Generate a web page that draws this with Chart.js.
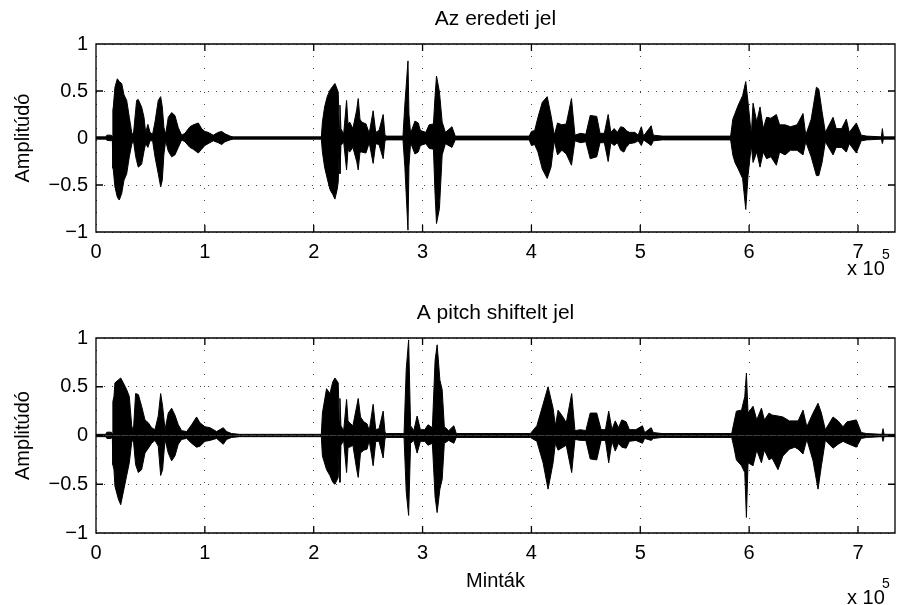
<!DOCTYPE html>
<html>
<head>
<meta charset="utf-8">
<script src="https://cdn.jsdelivr.net/npm/chart.js@4.4.1/dist/chart.umd.min.js"></script>
<style>
  html, body { margin: 0; padding: 0; background: #fff; }
  #wrap { position: relative; width: 897px; height: 605px; }
  #wrap canvas { position: absolute; left: 0; }
</style>
</head>
<body>
<div id="wrap">
  <canvas id="topChart" width="897" height="300" style="top:0"></canvas>
  <canvas id="bottomChart" width="897" height="305" style="top:300px"></canvas>
</div>
<script>
// axis values
const xTicks = [0, 1, 2, 3, 4, 5, 6, 7];
const yTicks = [-1, -0.5, 0, 0.5, 1];
const xMax = 7.34;   // samples / 1e5

const topTitle = 'Az eredeti jel';
const bottomTitle = 'A pitch shiftelt jel';
const yLabel = 'Amplitúdó';
const xLabel = 'Minták';

// waveform envelope: position (x 1e5 samples), upper and lower amplitude
const topX = [
  0, 0.09, 0.10, 0.14, 0.15, 0.155, 0.159, 0.174, 0.196, 0.214, 0.236, 0.257, 0.282, 0.306, 0.328, 0.343, 0.365, 0.373, 0.388, 0.419, 0.441, 0.456, 0.477, 0.496, 0.52, 0.542, 0.572, 0.594, 0.609, 0.624, 0.64, 0.664, 0.695, 0.725, 0.756, 0.787, 0.817, 0.863, 0.894, 0.94, 0.97, 1.0, 1.03, 1.077, 1.123, 1.154, 1.185, 1.231, 1.26,
  2.07, 2.08, 2.10, 2.124, 2.15, 2.175, 2.195, 2.215, 2.225, 2.235, 2.241, 2.25, 2.275, 2.302, 2.315, 2.33, 2.36, 2.395, 2.409, 2.425, 2.44, 2.48, 2.51, 2.546, 2.57, 2.60, 2.638, 2.655, 2.67,
  2.82, 2.837, 2.866, 2.875, 2.89, 2.93, 2.96, 2.98, 3.03, 3.06, 3.10, 3.115, 3.128, 3.155, 3.18, 3.21, 3.27, 3.30,
  3.98, 4.0, 4.03, 4.06, 4.10, 4.145, 4.18, 4.21, 4.24, 4.28, 4.32, 4.368, 4.40, 4.45, 4.50, 4.54, 4.60, 4.63, 4.67, 4.705, 4.73, 4.76, 4.79, 4.82, 4.85, 4.87, 4.90, 4.95, 4.98, 5.01, 5.03, 5.10, 5.12, 5.20,
  5.83, 5.85, 5.87, 5.90, 5.94, 5.969, 5.99, 6.02, 6.036, 6.07, 6.10, 6.13, 6.16, 6.20, 6.25, 6.28, 6.33, 6.38, 6.44, 6.495, 6.52, 6.57, 6.618, 6.64, 6.67, 6.70, 6.771, 6.80, 6.85, 6.893, 6.92, 6.985, 7.03, 7.08, 7.215, 7.224, 7.233, 7.34
];
const topHi = [
  0.012, 0.012, 0.03, 0.03, 0.015, 0.30, 0.33, 0.54, 0.63, 0.60, 0.58, 0.46, 0.40, 0.22, 0.06, 0.03, 0.30, 0.40, 0.41, 0.33, 0.22, 0.06, 0.145, 0.06, 0.04, 0.17, 0.40, 0.44, 0.33, 0.11, 0.04, 0.22, 0.27, 0.24, 0.11, 0.03, 0.05, 0.12, 0.14, 0.16, 0.10, 0.07, 0.06, 0.03, 0.06, 0.07, 0.045, 0.02, 0.012,
  0.012, 0.17, 0.33, 0.44, 0.51, 0.55, 0.58, 0.52, 0.49, 0.10, 0.35, 0.10, 0.04, 0.40, 0.15, 0.17, 0.10, 0.30, 0.42, 0.20, 0.17, 0.15, 0.05, 0.29, 0.06, 0.08, 0.25, 0.03, 0.02,
  0.02, 0.35, 0.82, 0.25, 0.05, 0.18, 0.16, 0.08, 0.06, 0.14, 0.15, 0.45, 0.66, 0.49, 0.17, 0.06, 0.12, 0.02,
  0.02, 0.07, 0.08, 0.22, 0.38, 0.44, 0.24, 0.03, 0.16, 0.14, 0.15, 0.42, 0.03, 0.05, 0.04, 0.24, 0.23, 0.05, 0.05, 0.25, 0.06, 0.10, 0.06, 0.12, 0.11, 0.08, 0.06, 0.06, 0.03, 0.12, 0.02, 0.13, 0.03, 0.02,
  0.02, 0.20, 0.26, 0.35, 0.45, 0.60, 0.38, 0.03, 0.37, 0.17, 0.33, 0.10, 0.22, 0.21, 0.25, 0.14, 0.14, 0.12, 0.14, 0.26, 0.03, 0.20, 0.54, 0.52, 0.28, 0.06, 0.22, 0.10, 0.10, 0.20, 0.06, 0.16, 0.03, 0.02, 0.012, 0.10, 0.012, 0.012
];
const topLo = [
  -0.012, -0.012, -0.025, -0.03, -0.015, -0.32, -0.34, -0.52, -0.63, -0.66, -0.59, -0.45, -0.38, -0.20, -0.07, -0.02, -0.20, -0.24, -0.31, -0.28, -0.14, -0.06, -0.10, -0.03, -0.03, -0.20, -0.38, -0.52, -0.45, -0.17, -0.03, -0.14, -0.20, -0.18, -0.10, -0.02, -0.04, -0.10, -0.12, -0.16, -0.12, -0.08, -0.06, -0.03, -0.05, -0.07, -0.04, -0.02, -0.012,
  -0.012, -0.15, -0.31, -0.43, -0.55, -0.60, -0.65, -0.55, -0.47, -0.10, -0.38, -0.08, -0.04, -0.34, -0.12, -0.15, -0.10, -0.25, -0.34, -0.15, -0.15, -0.16, -0.05, -0.27, -0.06, -0.07, -0.22, -0.03, -0.02,
  -0.02, -0.30, -0.98, -0.30, -0.05, -0.17, -0.15, -0.08, -0.06, -0.11, -0.12, -0.60, -0.91, -0.75, -0.18, -0.06, -0.10, -0.02,
  -0.02, -0.08, -0.07, -0.15, -0.33, -0.43, -0.31, -0.03, -0.18, -0.13, -0.17, -0.29, -0.03, -0.05, -0.04, -0.22, -0.20, -0.05, -0.05, -0.25, -0.05, -0.08, -0.05, -0.13, -0.15, -0.10, -0.06, -0.05, -0.03, -0.08, -0.02, -0.08, -0.03, -0.02,
  -0.02, -0.18, -0.26, -0.33, -0.43, -0.76, -0.40, -0.08, -0.26, -0.15, -0.31, -0.15, -0.22, -0.20, -0.29, -0.15, -0.18, -0.13, -0.13, -0.18, -0.04, -0.20, -0.40, -0.40, -0.26, -0.04, -0.18, -0.10, -0.10, -0.15, -0.06, -0.16, -0.03, -0.02, -0.012, -0.06, -0.012, -0.012
];

const botX = [
  0, 0.09, 0.10, 0.14, 0.15, 0.155, 0.165, 0.174, 0.205, 0.227, 0.251, 0.282, 0.306, 0.328, 0.343, 0.364, 0.389, 0.419, 0.45, 0.481, 0.511, 0.542, 0.572, 0.594, 0.612, 0.634, 0.664, 0.695, 0.725, 0.756, 0.787, 0.833, 0.878, 0.924, 0.955, 1.001, 1.047, 1.108, 1.169, 1.2, 1.246, 1.32,
  2.07, 2.08, 2.118, 2.149, 2.175, 2.195, 2.225, 2.235, 2.241, 2.25, 2.275, 2.302, 2.315, 2.33, 2.36, 2.395, 2.409, 2.43, 2.46, 2.49, 2.51, 2.546, 2.57, 2.60, 2.638, 2.655, 2.67,
  2.83, 2.85, 2.872, 2.89, 2.92, 2.95, 2.98, 3.02, 3.05, 3.09, 3.115, 3.134, 3.159, 3.18, 3.20, 3.24, 3.287, 3.31,
  3.99, 4.05, 4.107, 4.153, 4.199, 4.22, 4.245, 4.29, 4.32, 4.37, 4.40, 4.45, 4.50, 4.54, 4.60, 4.64, 4.68, 4.71, 4.74, 4.77, 4.80, 4.83, 4.87, 4.90, 4.96, 5.02, 5.04, 5.10, 5.12, 5.20,
  5.84, 5.86, 5.883, 5.93, 5.96, 5.975, 5.99, 6.036, 6.07, 6.113, 6.14, 6.183, 6.21, 6.265, 6.31, 6.37, 6.42, 6.45, 6.495, 6.53, 6.587, 6.633, 6.664, 6.70, 6.771, 6.817, 6.863, 6.899, 6.985, 7.03, 7.08, 7.22, 7.23, 7.24, 7.34
];
const botHi = [
  0.012, 0.012, 0.034, 0.034, 0.015, 0.35, 0.40, 0.54, 0.57, 0.59, 0.54, 0.47, 0.40, 0.10, 0.04, 0.43, 0.42, 0.30, 0.16, 0.13, 0.08, 0.06, 0.20, 0.43, 0.30, 0.06, 0.23, 0.28, 0.21, 0.11, 0.05, 0.04, 0.11, 0.19, 0.13, 0.09, 0.08, 0.04, 0.08, 0.04, 0.02, 0.012,
  0.012, 0.23, 0.48, 0.43, 0.55, 0.59, 0.54, 0.15, 0.38, 0.10, 0.05, 0.37, 0.15, 0.13, 0.10, 0.30, 0.38, 0.19, 0.14, 0.12, 0.05, 0.32, 0.06, 0.07, 0.25, 0.03, 0.02,
  0.02, 0.68, 0.98, 0.10, 0.05, 0.20, 0.06, 0.06, 0.11, 0.08, 0.77, 0.93, 0.57, 0.47, 0.09, 0.05, 0.10, 0.02,
  0.02, 0.10, 0.32, 0.50, 0.28, 0.10, 0.26, 0.19, 0.13, 0.43, 0.05, 0.06, 0.05, 0.23, 0.23, 0.06, 0.06, 0.25, 0.06, 0.15, 0.08, 0.16, 0.14, 0.06, 0.06, 0.10, 0.03, 0.08, 0.03, 0.02,
  0.02, 0.13, 0.25, 0.26, 0.40, 0.64, 0.23, 0.30, 0.16, 0.28, 0.16, 0.23, 0.21, 0.20, 0.19, 0.15, 0.15, 0.15, 0.26, 0.09, 0.23, 0.33, 0.23, 0.06, 0.19, 0.15, 0.09, 0.14, 0.16, 0.03, 0.02, 0.012, 0.07, 0.012, 0.012
];
const botLo = [
  -0.012, -0.012, -0.03, -0.03, -0.015, -0.30, -0.35, -0.52, -0.65, -0.71, -0.58, -0.41, -0.28, -0.07, -0.04, -0.30, -0.38, -0.35, -0.18, -0.13, -0.08, -0.05, -0.11, -0.41, -0.35, -0.04, -0.18, -0.26, -0.21, -0.09, -0.04, -0.03, -0.08, -0.12, -0.11, -0.06, -0.05, -0.03, -0.09, -0.04, -0.02, -0.012,
  -0.012, -0.21, -0.35, -0.41, -0.48, -0.50, -0.43, -0.10, -0.48, -0.10, -0.05, -0.38, -0.12, -0.12, -0.10, -0.35, -0.43, -0.18, -0.15, -0.14, -0.05, -0.31, -0.06, -0.06, -0.23, -0.03, -0.02,
  -0.02, -0.58, -0.82, -0.08, -0.05, -0.18, -0.06, -0.06, -0.10, -0.08, -0.63, -0.79, -0.55, -0.45, -0.08, -0.05, -0.08, -0.02,
  -0.02, -0.06, -0.28, -0.55, -0.28, -0.08, -0.15, -0.12, -0.10, -0.38, -0.04, -0.05, -0.05, -0.24, -0.25, -0.05, -0.05, -0.28, -0.06, -0.16, -0.08, -0.12, -0.13, -0.06, -0.05, -0.08, -0.03, -0.05, -0.03, -0.02,
  -0.02, -0.12, -0.25, -0.31, -0.38, -0.84, -0.28, -0.31, -0.15, -0.28, -0.15, -0.25, -0.23, -0.35, -0.21, -0.14, -0.12, -0.14, -0.19, -0.04, -0.26, -0.55, -0.31, -0.05, -0.13, -0.09, -0.06, -0.08, -0.12, -0.03, -0.02, -0.012, -0.06, -0.012, -0.012
];

const FONT = "'Liberation Sans', Arial, Helvetica, sans-serif";
const fmtTick = v => (v < 0 ? '\u2212' + Math.abs(v) : String(v));

// matlab style box, inward ticks and the "x 10^5" exponent
const matlabBox = {
  id: 'matlabBox',
  afterDraw(chart, args, opts) {
    const { ctx, chartArea: a, scales: { x, y } } = chart;
    ctx.save();
    ctx.strokeStyle = '#000';
    ctx.lineWidth = 1.3;
    ctx.beginPath();
    ctx.rect(a.left, a.top, a.right - a.left, a.bottom - a.top);
    xTicks.forEach(v => {
      const px = x.getPixelForValue(v);
      ctx.moveTo(px, a.bottom); ctx.lineTo(px, a.bottom - 7);
      ctx.moveTo(px, a.top); ctx.lineTo(px, a.top + 7);
    });
    yTicks.forEach(v => {
      const py = y.getPixelForValue(v);
      ctx.moveTo(a.left, py); ctx.lineTo(a.left + 7, py);
      ctx.moveTo(a.right, py); ctx.lineTo(a.right - 7, py);
    });
    ctx.stroke();
    ctx.fillStyle = '#000';
    ctx.textBaseline = 'alphabetic';
    ctx.textAlign = 'left';
    ctx.font = '20px ' + FONT;
    ctx.fillText('x 10', 847, opts.expBase);
    ctx.font = '14px ' + FONT;
    ctx.fillText('5', 882, opts.expBase - 16);
    ctx.restore();
  }
};

function makeChart(id, title, xs, hi, lo, o) {
  const pts = ys => xs.map((x, i) => ({ x, y: ys[i] }));
  const wave = { xAxisID: 'x', yAxisID: 'y', borderColor: '#000', backgroundColor: '#000', borderWidth: 1, pointRadius: 0, tension: 0, fill: 'origin' };
  const tickFont = { size: 20, family: FONT };
  return new Chart(document.getElementById(id), {
    type: 'line',
    data: { datasets: [ { data: pts(hi), ...wave }, { data: pts(lo), ...wave } ] },
    options: {
      responsive: false,
      animation: false,
      layout: { padding: { left: 0, right: 2, top: 0, bottom: 0 } },
      plugins: {
        legend: { display: false },
        tooltip: { enabled: false },
        matlabBox: { expBase: o.expBase }
      },
      scales: {
        x: {
          type: 'linear', min: 0, max: xMax,
          afterBuildTicks: s => { s.ticks = xTicks.map(v => ({ value: v })); },
          afterFit: s => { s.height = o.xHeight; },
          grid: { color: '#444', lineWidth: 1, drawTicks: false, borderDash: [1, 11] },
          border: { display: false, dash: [1, 11] },
          ticks: { color: '#000', font: tickFont, padding: 8, maxRotation: 0, autoSkip: false },
          title: o.xTitle
            ? { display: true, text: o.xTitle, color: '#000', font: tickFont, padding: { top: 0, bottom: 12 } }
            : { display: false }
        },
        // top axis only carries the subplot title, so it is centred over the plot box
        xTop: {
          type: 'linear', position: 'top', min: 0, max: xMax,
          afterFit: s => { s.height = o.titleHeight; },
          grid: { display: false },
          border: { display: false },
          ticks: { display: false },
          title: { display: true, text: title, color: '#000', font: { size: 21, family: FONT }, padding: { top: o.titleTop, bottom: 0 } }
        },
        y: {
          min: -1, max: 1,
          afterBuildTicks: s => { s.ticks = yTicks.map(v => ({ value: v })); },
          afterFit: s => { s.width = 96; },
          grid: { color: '#444', lineWidth: 1, drawTicks: false, borderDash: [1, 7] },
          border: { display: false, dash: [1, 7] },
          ticks: { color: '#000', font: tickFont, padding: 8, callback: fmtTick },
          title: { display: true, text: yLabel, color: '#000', font: tickFont, padding: { top: 11, bottom: 0 } }
        }
      }
    },
    plugins: [matlabBox]
  });
}

makeChart('topChart', topTitle, topX, topHi, topLo, { titleHeight: 44, titleTop: 7, xHeight: 68, expBase: 275 });
makeChart('bottomChart', bottomTitle, botX, botHi, botLo, { titleHeight: 38, titleTop: 1, xHeight: 72, expBase: 304, xTitle: xLabel });
</script>
</body>
</html>
